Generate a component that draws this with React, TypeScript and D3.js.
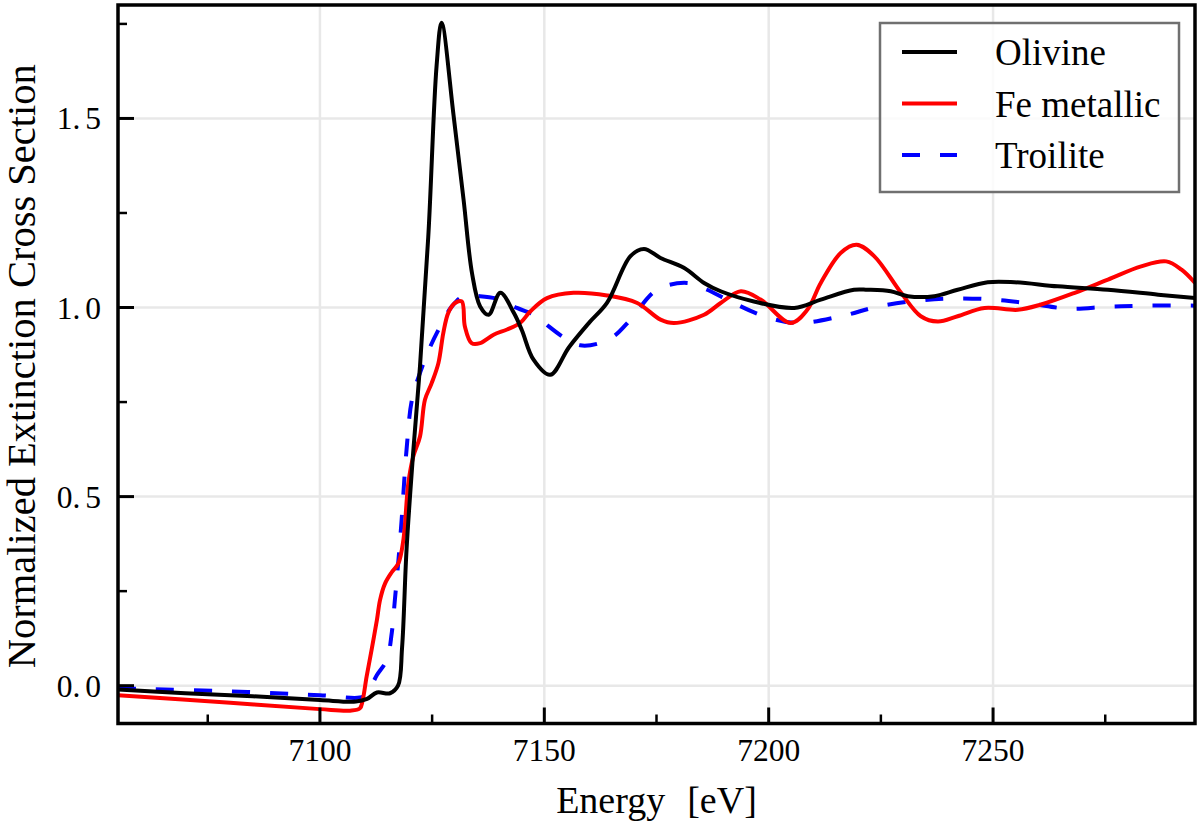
import React from "react";
import * as d3 from "d3";

// ---- Data ----
const olivineE = [7055, 7070, 7085, 7100, 7108, 7110.5, 7112.7, 7115.6, 7117.4, 7118.3, 7119.3, 7120.8, 7122.3, 7124.2, 7126.0, 7127.1, 7129.8, 7132.0, 7133.9, 7135.7, 7137.6, 7140.2, 7143.2, 7145, 7147.6, 7151.3, 7155.5, 7160, 7164, 7169.2, 7172.2, 7175.9, 7181.1, 7185.6, 7189.3, 7196.7, 7205.7, 7211.6, 7219, 7222, 7227.2, 7231, 7236.9, 7242.1, 7248.8, 7254.8, 7264.4, 7275.6, 7286.8, 7295];
const olivineV = [-0.010, -0.020, -0.028, -0.038, -0.042, -0.035, -0.018, -0.020, 0.000, 0.10, 0.36, 0.62, 0.845, 1.20, 1.64, 1.753, 1.506, 1.286, 1.09, 1.003, 0.981, 1.039, 0.986, 0.94, 0.862, 0.822, 0.895, 0.96, 1.013, 1.136, 1.155, 1.131, 1.105, 1.065, 1.043, 1.016, 0.999, 1.021, 1.047, 1.047, 1.043, 1.03, 1.03, 1.047, 1.067, 1.067, 1.056, 1.047, 1.034, 1.025];

const feE = [7055, 7080, 7100, 7106.7, 7108.9, 7109.5, 7110.4, 7111.5, 7112.7, 7113.4, 7114.5, 7116, 7117.5, 7118.6, 7119.7, 7120.8, 7122.3, 7123.4, 7124.9, 7126.4, 7127.5, 7128.6, 7130.1, 7131.6, 7132.3, 7133.8, 7135.7, 7138.7, 7141.7, 7144.6, 7146.9, 7150.6, 7156.5, 7164, 7170.7, 7175.9, 7178.9, 7185.6, 7189.3, 7193.8, 7198.2, 7204.9, 7208.6, 7211.6, 7216.1, 7219.6, 7223.5, 7229.5, 7233.9, 7237.7, 7242.1, 7248.1, 7255.5, 7260.7, 7268.2, 7275.6, 7283, 7288.6, 7292, 7295];
const feV = [-0.025, -0.045, -0.062, -0.066, -0.060, -0.040, 0.024, 0.094, 0.174, 0.227, 0.27, 0.30, 0.324, 0.386, 0.536, 0.606, 0.659, 0.756, 0.80, 0.853, 0.933, 0.986, 1.012, 1.016, 0.95, 0.906, 0.906, 0.928, 0.942, 0.959, 0.99, 1.025, 1.039, 1.032, 1.012, 0.968, 0.959, 0.981, 1.012, 1.043, 1.021, 0.959, 0.994, 1.065, 1.145, 1.166, 1.136, 1.039, 0.977, 0.963, 0.977, 0.999, 0.994, 1.008, 1.039, 1.074, 1.109, 1.122, 1.10, 1.065];

const troE = [7055, 7080, 7100, 7109.7, 7111, 7112.7, 7114.9, 7116, 7116.7, 7117.5, 7118.2, 7119.3, 7120.5, 7122.3, 7124.6, 7126.8, 7129.4, 7132, 7135.7, 7140.2, 7143.9, 7148.4, 7151, 7155.1, 7158, 7161.8, 7165.5, 7169.2, 7175.1, 7181.8, 7186.3, 7191.5, 7199, 7206.4, 7216.1, 7224.2, 7233.1, 7241.4, 7250.3, 7258.5, 7266.7, 7275.6, 7284.5, 7295];
const troV = [-0.007, -0.015, -0.025, -0.029, -0.010, 0.028, 0.068, 0.139, 0.227, 0.333, 0.438, 0.624, 0.756, 0.827, 0.897, 0.95, 1.003, 1.03, 1.03, 1.021, 0.999, 0.977, 0.95, 0.915, 0.90, 0.904, 0.924, 0.968, 1.047, 1.065, 1.047, 1.016, 0.977, 0.959, 0.977, 1.002, 1.018, 1.024, 1.021, 1.01, 0.997, 1.002, 1.005, 1.005];

const seriesNames = ["Olivine", "Fe metallic", "Troilite"];
const xMajorTicks = [7100, 7150, 7200, 7250];
const xMinorTicks = [7075, 7125, 7175, 7225, 7275];
const yMajorTicks = [0, 0.5, 1.0, 1.5];
const yMajorLabels = [["0.", "0"], ["0.", "5"], ["1.", "0"], ["1.", "5"]];
const yMinorTicks = [0.25, 0.75, 1.25, 1.75];

const W = 1200, H = 825;
const L = 118, R = 1195, T = 5, B = 723.5;
const FONT = "Liberation Serif, DejaVu Serif, Noto Serif, Times New Roman, serif";

export default function App() {
  const x = d3.scaleLinear().domain([7055, 7295]).range([L, R]);
  const y = d3.scaleLinear().domain([-0.1, 1.8]).range([B, T]);
  const line = d3
    .line<[number, number]>()
    .x((d) => x(d[0]))
    .y((d) => y(d[1]))
    .curve(d3.curveCatmullRom.alpha(0.5));

  const mk = (E: number[], V: number[]) => E.map((e, i) => [e, V[i]] as [number, number]);
  const series = [
    { name: seriesNames[0], d: mk(olivineE, olivineV), color: "#000000", dash: undefined as string | undefined },
    { name: seriesNames[1], d: mk(feE, feV), color: "#ff0000", dash: undefined },
    { name: seriesNames[2], d: mk(troE, troV), color: "#0000ff", dash: "18 20" },
  ];
  const drawOrder = [2, 1, 0];
  const textStyle = { fontFamily: FONT } as React.CSSProperties;

  return (
    <svg width={W} height={H} style={{ position: "absolute", left: 0, top: 0, background: "#fff" }}>
      <defs>
        <clipPath id="plotclip">
          <rect x={L} y={T} width={R - L} height={B - T} />
        </clipPath>
      </defs>
      <rect x={0} y={0} width={W} height={H} fill="#fff" />
      {xMajorTicks.map((t) => (
        <line key={"gx" + t} x1={x(t)} x2={x(t)} y1={T} y2={B} stroke="#e8e8e8" strokeWidth={2.5} />
      ))}
      {yMajorTicks.map((t) => (
        <line key={"gy" + t} x1={L} x2={R} y1={y(t)} y2={y(t)} stroke="#e8e8e8" strokeWidth={2.5} />
      ))}
      <g clipPath="url(#plotclip)">
        {drawOrder.map((i) => {
          const s = series[i];
          return (
            <path
              key={s.name}
              d={line(s.d) || ""}
              fill="none"
              stroke={s.color}
              strokeWidth={4}
              strokeDasharray={s.dash}
              strokeLinejoin="round"
            />
          );
        })}
      </g>
      {xMajorTicks.map((t) => (
        <line key={"tx" + t} x1={x(t)} x2={x(t)} y1={B} y2={B - 16} stroke="#000" strokeWidth={3} />
      ))}
      {xMinorTicks.map((t) => (
        <line key={"mx" + t} x1={x(t)} x2={x(t)} y1={B} y2={B - 9} stroke="#000" strokeWidth={2.5} />
      ))}
      {yMajorTicks.map((t) => (
        <line key={"ty" + t} x1={L} x2={L + 16} y1={y(t)} y2={y(t)} stroke="#000" strokeWidth={3} />
      ))}
      {yMinorTicks.map((t) => (
        <line key={"my" + t} x1={L} x2={L + 9} y1={y(t)} y2={y(t)} stroke="#000" strokeWidth={2.5} />
      ))}
      <rect x={L} y={T} width={R - L} height={B - T} fill="none" stroke="#000" strokeWidth={3.5} />
      {xMajorTicks.map((t) => (
        <text key={"lx" + t} x={x(t)} y={761} textAnchor="middle" style={textStyle} fontSize={31.5} fill="#000">
          {String(t)}
        </text>
      ))}
      {yMajorTicks.map((t, i) => (
        <text key={"ly" + t} x={101} y={y(t) + 11} textAnchor="end" style={textStyle} fontSize={31.5} fill="#000">
          <tspan>{yMajorLabels[i][0]}</tspan>
          <tspan dx={5}>{yMajorLabels[i][1]}</tspan>
        </text>
      ))}
      <text x={(L + R) / 2} y={813} textAnchor="middle" style={textStyle} fontSize={38} fill="#000">
        <tspan>Energy</tspan>
        <tspan dx={22}>[eV]</tspan>
      </text>
      <text
        transform={`translate(35, ${(T + B) / 2 + 2}) rotate(-90)`}
        textAnchor="middle"
        style={textStyle}
        fontSize={40.5}
        fill="#000"
      >
        Normalized Extinction Cross Section
      </text>
      <g>
        <rect x={880} y={23} width={299} height={169} fill="#fff" fillOpacity={0.8} stroke="#707070" strokeWidth={2.5} />
        {series.map((s, i) => {
          const cy = 52 + i * 51.5;
          return (
            <g key={"leg" + s.name}>
              <line x1={902} x2={957} y1={cy} y2={cy} stroke={s.color} strokeWidth={4} strokeDasharray={s.dash} />
              <text x={995} y={cy + 13} style={textStyle} fontSize={37} fill="#000">
                {s.name}
              </text>
            </g>
          );
        })}
      </g>
    </svg>
  );
}
